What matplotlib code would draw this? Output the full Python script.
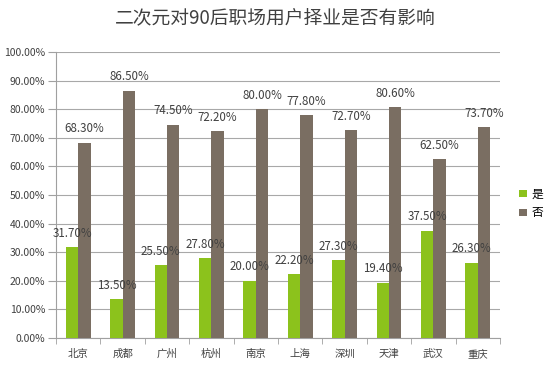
import numpy as np
import matplotlib.pyplot as plt

plt.rcParams['font.family'] = ['Noto Sans CJK SC', 'DejaVu Sans']

cities = ["北京", "成都", "广州", "杭州", "南京", "上海", "深圳", "天津", "武汉", "重庆"]
yes_vals = [31.7, 13.5, 25.5, 27.8, 20.0, 22.2, 27.3, 19.4, 37.5, 26.3]
no_vals = [68.3, 86.5, 74.5, 72.2, 80.0, 77.8, 72.7, 80.6, 62.5, 73.7]

green = "#8cc21c"
gray = "#7a6e62"

fig = plt.figure(figsize=(5.5, 3.72), dpi=100)
ax = fig.add_axes([0.102, 0.0914, 0.807, 0.769])

x = np.arange(len(cities))
w = 0.28
b1 = ax.bar(x - w / 2, yes_vals, w, color=green, label="是", zorder=3)
b2 = ax.bar(x + w / 2, no_vals, w, color=gray, label="否", zorder=3)

# value labels, centred over each bar
for xs, vals in [(x - w / 2, yes_vals), (x + w / 2, no_vals)]:
    for xi, v in zip(xs, vals):
        ax.annotate("%.2f%%" % v, (xi, v), xytext=(0, 10), textcoords="offset points",
                    ha="center", va="center", fontsize=8.3, color="#404040", zorder=4)

ax.set_ylim(0, 100)
ax.set_xlim(-0.5, len(cities) - 0.5)
ax.set_yticks(np.arange(0, 101, 10))
ax.set_yticklabels(["%.2f%%" % t for t in np.arange(0, 101, 10)], fontsize=7.5, color="#404040")
ax.set_xticks(x)
ax.set_xticklabels(cities, fontsize=7.5, color="#404040")
ax.set_xticks(np.arange(-0.5, len(cities), 1), minor=True)
ax.tick_params(axis="x", which="major", length=0, pad=8)
ax.tick_params(axis="x", which="minor", length=4, color="#a0a0a0")
ax.tick_params(axis="y", length=6, color="#a0a0a0", pad=2)
ax.grid(axis="y", color="#a8a8a8", linewidth=0.8, zorder=0)
for s in ["top", "right"]:
    ax.spines[s].set_visible(False)
for s in ["left", "bottom"]:
    ax.spines[s].set_color("#a0a0a0")

fig.text(0.5, 0.952, "二次元对90后职场用户择业是否有影响", ha="center", va="center", fontsize=13.5, color="#404040")

ax.legend(loc="center left", bbox_to_anchor=(1.02, 0.47), frameon=False, fontsize=8.5,
          handlelength=0.6, handleheight=0.6, handletextpad=0.4, labelspacing=0.5)

fig.savefig("out.png", dpi=100)
